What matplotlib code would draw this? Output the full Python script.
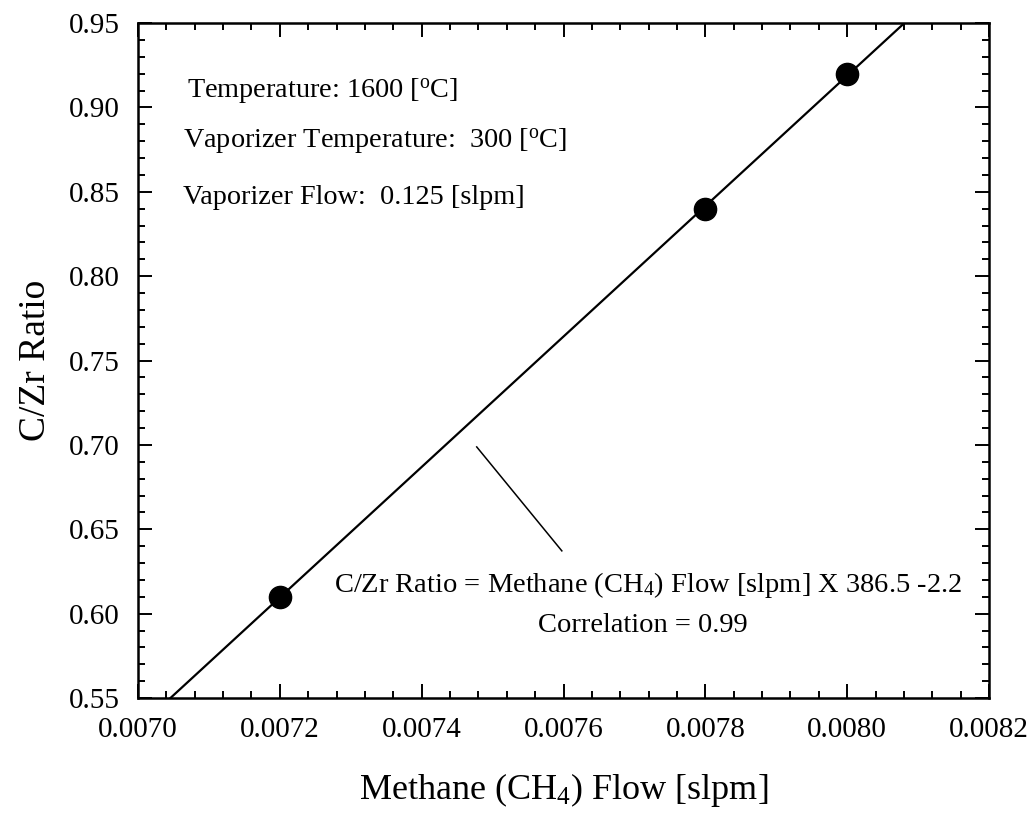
import numpy as np
import matplotlib
matplotlib.use("Agg")
import matplotlib.pyplot as plt
from matplotlib.ticker import MultipleLocator, FormatStrFormatter

# ---- data ----
methane_flow = [0.0072, 0.0078, 0.0080]
cz_ratio = [0.61, 0.84, 0.92]
x_ticks = [0.0070, 0.0072, 0.0074, 0.0076, 0.0078, 0.0080, 0.0082]
y_ticks = [0.55, 0.60, 0.65, 0.70, 0.75, 0.80, 0.85, 0.90, 0.95]
info_lines = ["Temperature: 1600 [$^{\\rm o}$C]",
              "Vaporizer Temperature:  300 [$^{\\rm o}$C]",
              "Vaporizer Flow:  0.125 [slpm]"]
eq_text = "C/Zr Ratio = Methane (CH$_4$) Flow [slpm] X 386.5 -2.2"
corr_text = "Correlation = 0.99"

plt.rcParams['font.family'] = ['Liberation Serif', 'DejaVu Serif']
plt.rcParams['mathtext.fontset'] = 'custom'
plt.rcParams['mathtext.rm'] = 'Liberation Serif'
plt.rcParams['mathtext.it'] = 'Liberation Serif:italic'

fig = plt.figure(figsize=(10.36, 8.14), dpi=100)
ax = fig.add_axes([0.1332, 0.1425, 0.8215, 0.8292])

# regression line
coef = np.polyfit(methane_flow, cz_ratio, 1)
xl = np.array([x_ticks[0], x_ticks[-1]])
ax.plot(xl, np.polyval(coef, xl), color='black', lw=1.6, zorder=2)
ax.plot(methane_flow, cz_ratio, 'o', color='black', ms=16, zorder=3)

ax.set_xlim(x_ticks[0], x_ticks[-1])
ax.set_ylim(y_ticks[0], y_ticks[-1])
ax.set_xticks(x_ticks)
ax.set_yticks(y_ticks)
ax.xaxis.set_major_formatter(FormatStrFormatter('%.4f'))
ax.yaxis.set_major_formatter(FormatStrFormatter('%.2f'))
ax.xaxis.set_minor_locator(MultipleLocator(0.00004))
ax.yaxis.set_minor_locator(MultipleLocator(0.01))
ax.tick_params(which='both', direction='in', top=True, right=True, width=1.4, colors='black')
ax.tick_params(which='major', length=10)
ax.tick_params(which='minor', length=5)
ax.tick_params(axis='x', which='major', pad=14, labelsize=21)
ax.tick_params(axis='y', which='major', pad=13, labelsize=21)
for s in ax.spines.values():
    s.set_linewidth(1.8)

ax.set_xlabel("Methane (CH$_4$) Flow [slpm]", fontsize=26)
ax.xaxis.set_label_coords(0.5, -0.108)
ax.set_ylabel("C/Zr Ratio", fontsize=27)
ax.yaxis.set_label_coords(-0.1, 0.5)

ys = [0.898, 0.824, 0.742]
xs = [0.0575, 0.053, 0.053]
for t, xx, yy in zip(info_lines, xs, ys):
    ax.text(xx, yy, t, transform=ax.transAxes, fontsize=20.3, ha='left', va='center')

ax.text(0.599, 0.167, eq_text, transform=ax.transAxes, fontsize=20.5, ha='center', va='center')
ax.text(0.593, 0.108, corr_text, transform=ax.transAxes, fontsize=20.5, ha='center', va='center')
ax.plot([0.398, 0.498], [0.372, 0.218], transform=ax.transAxes, color='black', lw=1.1)

fig.savefig("out.png", dpi=100)
